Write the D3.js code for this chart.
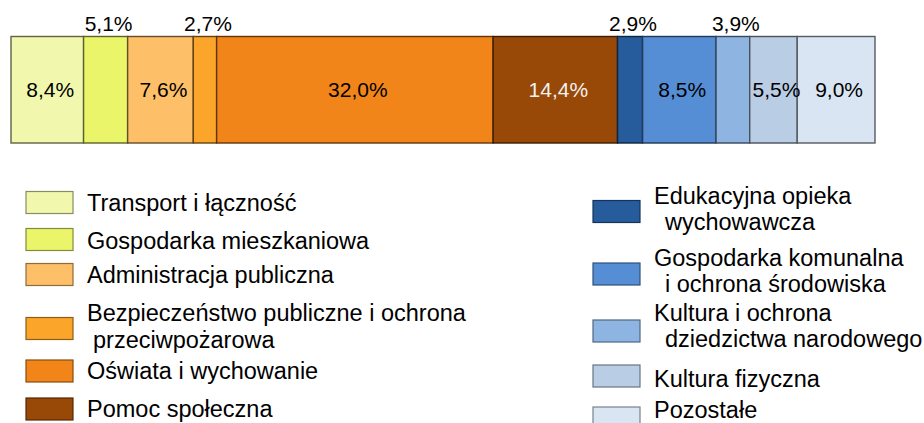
<!DOCTYPE html>
<html lang="pl">
<head>
    <meta charset="UTF-8">
    <title>Struktura wydatków</title>
    <style type="text/css">
        * {
            margin: 0;
            padding: 0;
        }

        body {
            background: #fff;
        }

        #chart-area {
            width: 924px;
            height: 423px;
            overflow: hidden;
        }
    </style>
</head>
<body>
<div id="chart-area"></div>
<script src="https://cdn.jsdelivr.net/npm/d3@7"></script>
<script type="text/javascript">

  // dane
  const categories = [
    'Transport i łączność',
    'Gospodarka mieszkaniowa',
    'Administracja publiczna',
    'Bezpieczeństwo publiczne i ochrona\nprzeciwpożarowa',
    'Oświata i wychowanie',
    'Pomoc społeczna',
    'Edukacyjna opieka\nwychowawcza',
    'Gospodarka komunalna\ni ochrona środowiska',
    'Kultura i ochrona\ndziedzictwa narodowego',
    'Kultura fizyczna',
    'Pozostałe'
  ]
  const shares = [8.4, 5.1, 7.6, 2.7, 32.0, 14.4, 2.9, 8.5, 3.9, 5.5, 9.0]
  const colorRange = ['#f1f8ad', '#eaf569', '#fdbf68', '#fba62b', '#f28519', '#984807',
    '#265c9c', '#558ed5', '#8eb4e2', '#b9cde4', '#d9e5f3']

  const W = 924
  const H = 423
  const BAR = {LEFT: 11, RIGHT: 875, TOP: 36.5, BOTTOM: 143}
  const LABEL_FONT = 21
  const LEGEND_FONT = 23.5

  const svg = d3.select('#chart-area').append('svg')
    .attr('width', W)
    .attr('height', H)
    .style('font-family', '"Liberation Sans", Arial, sans-serif')

  const x = d3.scaleLinear().domain([0, d3.sum(shares)]).range([BAR.LEFT, BAR.RIGHT])
  const colors = d3.scaleOrdinal().domain(categories).range(colorRange)
  const pl = d3.formatLocale({decimal: ',', thousands: ' ', grouping: [3], currency: ['', ' zł']})
  const fmt = pl.format('.1f')

  const ends = Array.from(d3.cumsum(shares))
  const segs = shares.map((v, i) => ({name: categories[i], value: v, x0: ends[i] - v, x1: ends[i]}))

  const bar = svg.append('g').attr('class', 'bar')

  bar.selectAll('rect')
    .data(segs)
    .join('rect')
    .attr('x', d => x(d.x0))
    .attr('width', d => x(d.x1) - x(d.x0))
    .attr('y', BAR.TOP)
    .attr('height', BAR.BOTTOM - BAR.TOP)
    .attr('fill', d => colors(d.name))
    .attr('stroke', d => d3.color(colors(d.name)).darker(2.6))
    .attr('stroke-width', 1.4)

  // etykiety - male udzialy nad paskiem
  bar.selectAll('text')
    .data(segs)
    .join('text')
    .attr('x', d => (x(d.x0) + x(d.x1)) / 2 + 3)
    .attr('y', d => d.value < 5.3 ? 31 : (BAR.TOP + BAR.BOTTOM) / 2 + LABEL_FONT * 0.36)
    .attr('text-anchor', 'middle')
    .attr('font-size', LABEL_FONT + 'px')
    .attr('fill', d => d.name === 'Pomoc społeczna' ? '#f2f2f2' : '#000')
    .text(d => fmt(d.value) + '%')

  // legenda (boxY - srodek kwadratu, textY - srodek bloku tekstu)
  const LEGEND_LEFT = {
    x: 26, indent: 6,
    boxY: [202.5, 239.5, 274.5, 328.5, 371, 409],
    textY: [202.5, 240.5, 275, 326, 370.5, 408.5]
  }
  const LEGEND_RIGHT = {
    x: 593, indent: 11,
    boxY: [211.5, 274, 331, 376, 418],
    textY: [208.5, 270.5, 325.5, 378.5, 409.5]
  }
  const BOX = {W: 47, H: 22}
  const LINE_H = 26.5

  function drawLegend(items, cfg) {
    const lg = svg.append('g').attr('class', 'legend')
    const row = lg.selectAll('g')
      .data(items)
      .join('g')
      .attr('transform', `translate(${cfg.x}, 0)`)

    row.append('rect')
      .attr('x', 0)
      .attr('y', (d, i) => cfg.boxY[i] - BOX.H / 2)
      .attr('width', BOX.W)
      .attr('height', BOX.H)
      .attr('fill', d => colors(d))
      .attr('stroke', d => d3.color(colors(d)).darker(1.6))
      .attr('stroke-width', 1.2)

    row.each(function (d, i) {
      const lines = d.split('\n')
      const t = d3.select(this).append('text')
        .attr('font-size', LEGEND_FONT + 'px')
        .attr('fill', '#000')
      lines.forEach((ln, j) => {
        t.append('tspan')
          .attr('x', BOX.W + 14 + (j > 0 ? cfg.indent : 0))
          .attr('y', cfg.textY[i] + (j - (lines.length - 1) / 2) * LINE_H + LEGEND_FONT * 0.36)
          .text(ln)
      })
    })
  }

  drawLegend(categories.slice(0, 6), LEGEND_LEFT)
  drawLegend(categories.slice(6), LEGEND_RIGHT)

</script>
</body>
</html>
